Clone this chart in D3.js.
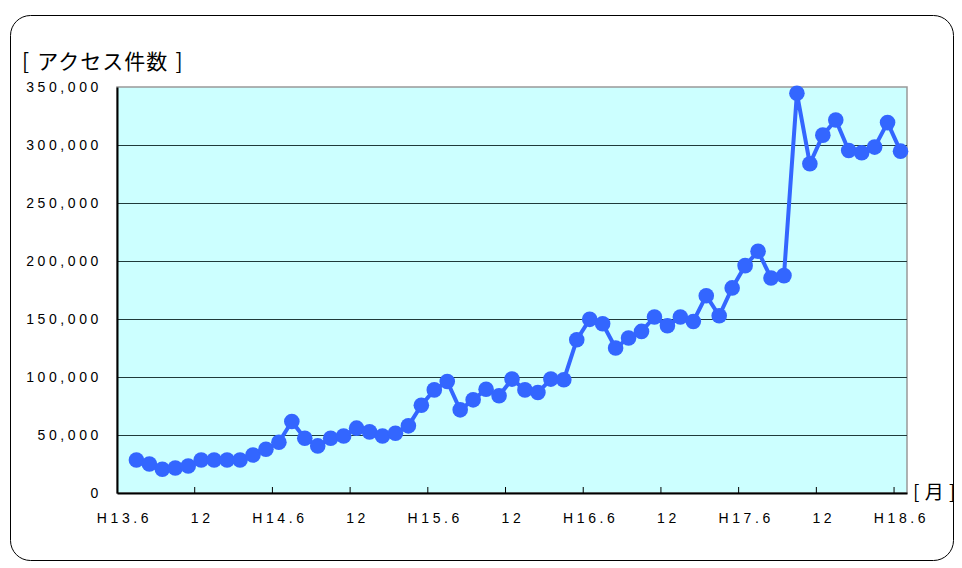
<!DOCTYPE html>
<html lang="ja">
<head>
<meta charset="UTF-8">
<title>アクセス件数</title>
<script src="https://cdn.jsdelivr.net/npm/d3@7"></script>
<style>
  body { margin: 0; background: #fff; }
  text { font-family: "Liberation Sans", Arial, sans-serif; }
  .jp { font-family: "Noto Sans CJK JP", "Noto Sans", sans-serif; }
</style>
</head>
<body>
<svg id="chart" width="962" height="568"></svg>
<script>
// ---- data ----
// months H13.6 .. H18.6 ; first month has no value
var eras = [13, 14, 15, 16, 17, 18];
var tickLabels = ["H13.6", "12", "H14.6", "12", "H15.6", "12", "H16.6", "12", "H17.6", "12", "H18.6"];
var accessCounts = [
  null,
  28500, 25000, 20500, 21600, 23300, 28500, 28500, 28500, 28500, 32800,
  37700, 43800, 61600, 47200, 40600, 47200, 49200, 55900, 52700, 49200,
  51500, 57900, 75700, 88900, 96100, 71700, 80300, 89500, 83800, 98200,
  88900, 86600, 98200, 97600, 132100, 149700, 145900, 125000, 133600, 139300,
  151700, 144200, 151700, 147900, 170100, 152800, 176800, 196000, 208400, 185400,
  187400, 344600, 283800, 308500, 321500, 295300, 293300, 298200, 319300, 294700
];
var yTicks = [0, 50000, 100000, 150000, 200000, 250000, 300000, 350000];

// month categories "H13.6", "H13.7", ...
var months = [];
eras.forEach(function (h) {
  for (var m = 1; m <= 12; m++) {
    if (h == 13 && m < 6) continue;
    if (h == 18 && m > 6) continue;
    months.push("H" + h + "." + m);
  }
});

var svg = d3.select("#chart");
var plotL = 117, plotR = 907, plotT = 87, plotB = 493;

// outer frame
svg.append("rect")
  .attr("x", 10.5).attr("y", 15.5)
  .attr("width", 943).attr("height", 545)
  .attr("rx", 20).attr("ry", 20)
  .attr("fill", "#fff").attr("stroke", "#000").attr("stroke-width", 1);

var x = d3.scaleBand().domain(months).range([plotL, plotR]).padding(0);
var y = d3.scaleLinear().domain([0, 350000]).range([plotB, plotT]);
var cx = function (m) { return x(m) + x.bandwidth() / 2; };

// plot area
svg.append("rect")
  .attr("x", plotL).attr("y", plotT)
  .attr("width", plotR - plotL).attr("height", plotB - plotT)
  .attr("fill", "#CCFFFF").attr("stroke", "#999").attr("stroke-width", 1.5);

// gridlines
svg.append("g").selectAll("line")
  .data(yTicks.filter(function (d) { return d > 0 && d < 350000; }))
  .enter().append("line")
  .attr("x1", plotL).attr("x2", plotR)
  .attr("y1", function (d) { return Math.round(y(d)) + 0.5; })
  .attr("y2", function (d) { return Math.round(y(d)) + 0.5; })
  .attr("stroke", "#1f3a3a").attr("stroke-width", 1.2);

// y axis
var yAxis = svg.append("g")
  .attr("transform", "translate(" + plotL + ",0)")
  .call(d3.axisLeft(y).tickValues(yTicks).tickFormat(d3.format(",")).tickSize(0).tickPadding(15));
yAxis.select(".domain").attr("stroke", "#000").attr("stroke-width", 2);
yAxis.selectAll("text")
  .attr("font-size", 14).attr("letter-spacing", "3.6px").attr("fill", "#000")
  .attr("font-family", "Liberation Sans, Arial, sans-serif");

// x axis labels (centred on every 6th month)
var sixth = months.filter(function (d, i) { return i % 6 == 0; });
var xAxis = svg.append("g")
  .attr("transform", "translate(0," + plotB + ")")
  .call(d3.axisBottom(x).tickValues(sixth)
    .tickFormat(function (d, i) { return tickLabels[i]; })
    .tickSize(0).tickPadding(20));
xAxis.select(".domain").attr("stroke", "#000").attr("stroke-width", 2);
xAxis.selectAll("text")
  .attr("font-size", 14).attr("letter-spacing", "3.6px").attr("fill", "#000")
  .attr("dx", "1px")
  .attr("font-family", "Liberation Sans, Arial, sans-serif");

// x tick marks at month boundaries
svg.append("g").selectAll("line")
  .data(sixth.slice(1))
  .enter().append("line")
  .attr("x1", function (d) { return x(d); })
  .attr("x2", function (d) { return x(d); })
  .attr("y1", plotB - 6).attr("y2", plotB)
  .attr("stroke", "#000").attr("stroke-width", 1);

// series
var pts = months.map(function (m, i) { return { m: m, v: accessCounts[i] }; })
  .filter(function (d) { return d.v != null; });

svg.append("path")
  .datum(pts)
  .attr("fill", "none")
  .attr("stroke", "#3366FF")
  .attr("stroke-width", 4)
  .attr("stroke-linejoin", "round")
  .attr("d", d3.line().x(function (d) { return cx(d.m); }).y(function (d) { return y(d.v); }));

svg.append("g").selectAll("circle")
  .data(pts)
  .enter().append("circle")
  .attr("cx", function (d) { return cx(d.m); })
  .attr("cy", function (d) { return y(d.v); })
  .attr("r", 7.8)
  .attr("fill", "#3366FF");

// titles
svg.append("text")
  .attr("class", "jp")
  .attr("x", 22).attr("y", 69)
  .attr("font-size", 21).attr("letter-spacing", "1px")
  .attr("word-spacing", "1.5px")
  .text("[ アクセス件数 ]");

svg.append("text")
  .attr("class", "jp")
  .attr("x", 913).attr("y", 499)
  .attr("font-size", 19).attr("letter-spacing", "0.5px")
  .text("[ 月 ]");
</script>
</body>
</html>
